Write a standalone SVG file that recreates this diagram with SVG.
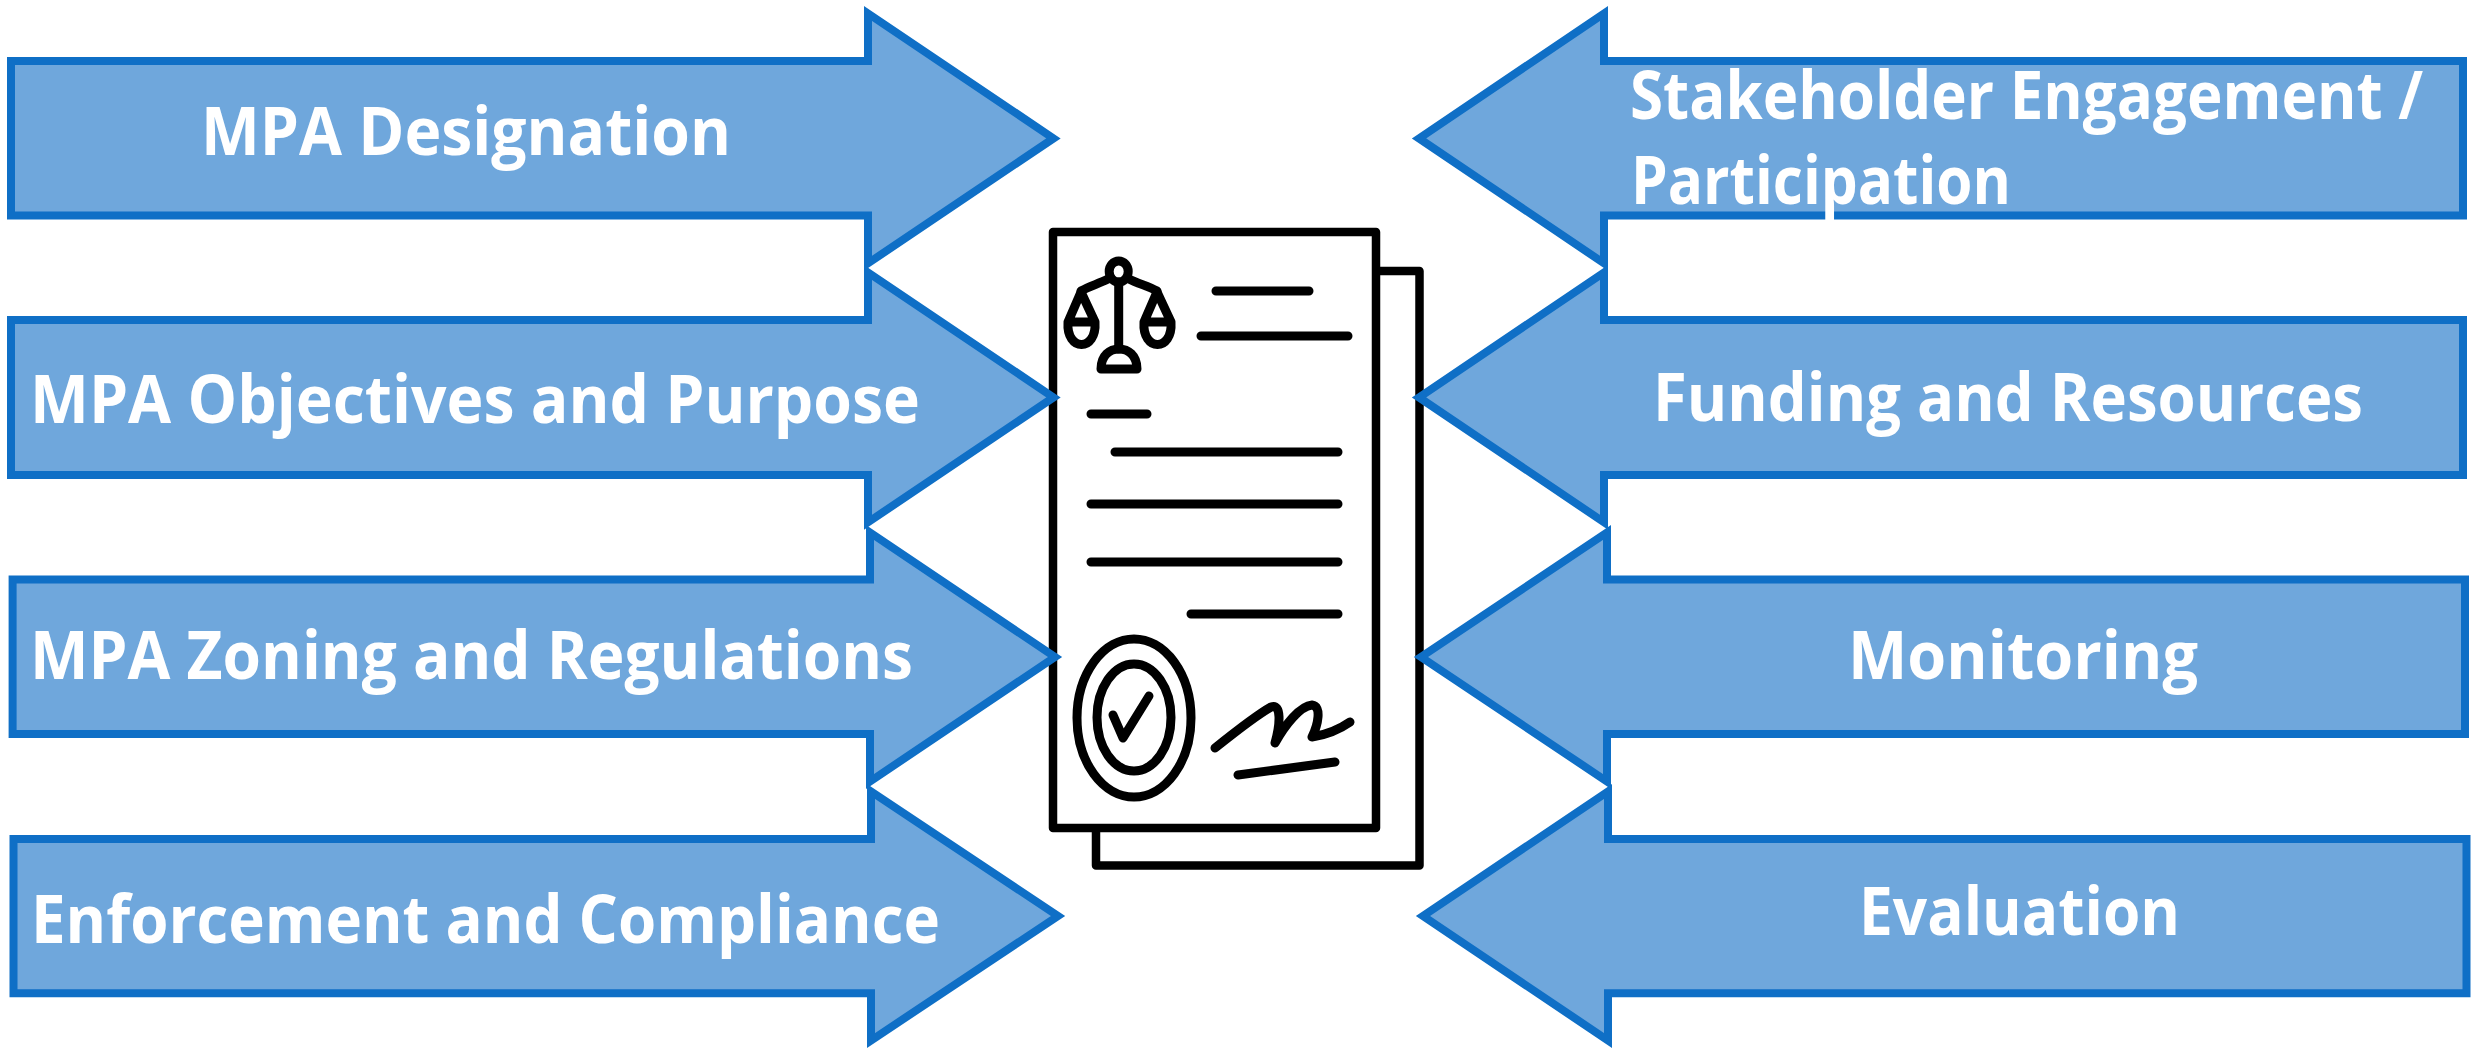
<svg xmlns="http://www.w3.org/2000/svg" width="2474" height="1049" viewBox="0 0 2474 1049">
<style>
.arrow{fill:#6fa7dc;stroke:#0f6fc6;stroke-width:8;stroke-miterlimit:10;stroke-linejoin:miter}
.label{font-family:"Open Sans","Liberation Sans",sans-serif;font-weight:700;font-size:66px;fill:#fff}
.ink{fill:none;stroke:#000;stroke-width:9;stroke-linecap:round;stroke-linejoin:round}
.page{fill:#fff;stroke:#000;stroke-width:8.5;stroke-linejoin:round}
</style>
<defs><filter id="soft" x="-5%" y="-5%" width="110%" height="110%"><feGaussianBlur stdDeviation="0.7"/></filter></defs>
<rect width="2474" height="1049" fill="#fff"/>
<g id="document" filter="url(#soft)">
<rect class="page" x="1096" y="271" width="323.5" height="594.5"/>
<rect class="page" x="1053" y="232" width="323" height="596"/>
<g class="ink">
<path d="M1216 291H1309M1201 336H1348M1091 414H1147M1115 452H1338M1091 504H1338M1091 562H1338M1191 614H1338"/>
<ellipse cx="1118.7" cy="271.5" rx="9.5" ry="10.5"/>
<path d="M1108 279C1098 284 1090 286 1081 291M1129 279C1139 284 1148 286 1157 291M1118.7 282V349"/>
<path d="M1081 292L1068 322C1066 352 1097 352 1095 322L1081 292ZM1068 322H1095"/>
<path d="M1157 292L1144 322C1142 352 1173 352 1171 322L1157 292ZM1144 322H1171"/>
<path d="M1101 369H1137C1137 355 1128 349 1119 349C1110 349 1101 355 1101 369Z"/>
<ellipse cx="1134" cy="718" rx="57" ry="79"/>
<ellipse cx="1134" cy="717.5" rx="37" ry="53.5"/>
<path d="M1113 715L1123 738L1149 696"/>
<path d="M1215 748C1235 732 1255 716 1271 707C1282 703 1280 725 1275 743C1285 725 1300 706 1312 705C1322 706 1318 725 1312 737C1325 735 1340 729 1350 722"/>
<path d="M1238 775L1335 762"/>
</g>
</g>
<g id="mpa-designation">
<path class="arrow" d="M11 61H868V13.5L1053.5 138.4L868 263.3V215.6H11Z"/>
<text class="label" x="201" y="154.5" textLength="530" lengthAdjust="spacingAndGlyphs">MPA Designation</text>
</g>
<g id="mpa-objectives">
<path class="arrow" d="M11 320H868V272.5L1053.5 397.4L868 522.3V475H11Z"/>
<text class="label" x="30" y="423" textLength="890" lengthAdjust="spacingAndGlyphs">MPA Objectives and Purpose</text>
</g>
<g id="mpa-zoning">
<path class="arrow" d="M12.6 579.4H870V532.5L1055 657L870 781.5V734H12.6Z"/>
<text class="label" x="30" y="679" textLength="883" lengthAdjust="spacingAndGlyphs">MPA Zoning and Regulations</text>
</g>
<g id="enforcement">
<path class="arrow" d="M13.5 839H871V791.5L1058 916L871 1040.5V993.3H13.5Z"/>
<text class="label" x="31" y="942.5" textLength="909" lengthAdjust="spacingAndGlyphs">Enforcement and Compliance</text>
</g>
<g id="stakeholder">
<path class="arrow" d="M2463 61H1604V13.5L1419 138.4L1604 263.3V215.6H2463Z"/>
<text class="label" x="1630" y="118.5" textLength="793" lengthAdjust="spacingAndGlyphs">Stakeholder Engagement /</text>
<text class="label" x="1631" y="203.5" textLength="380" lengthAdjust="spacingAndGlyphs">Participation</text>
</g>
<g id="funding">
<path class="arrow" d="M2463 320H1604V272.5L1419 397.4L1604 522.3V475H2463Z"/>
<text class="label" x="1653" y="421" textLength="710" lengthAdjust="spacingAndGlyphs">Funding and Resources</text>
</g>
<g id="monitoring">
<path class="arrow" d="M2465 579.4H1607V532.5L1421 657L1607 781.5V734H2465Z"/>
<text class="label" x="1848" y="678.5" textLength="350" lengthAdjust="spacingAndGlyphs">Monitoring</text>
</g>
<g id="evaluation">
<path class="arrow" d="M2466.5 839H1608V791.5L1423 916L1608 1040.5V993.3H2466.5Z"/>
<text class="label" x="1859" y="935" textLength="321" lengthAdjust="spacingAndGlyphs">Evaluation</text>
</g>
</svg>
